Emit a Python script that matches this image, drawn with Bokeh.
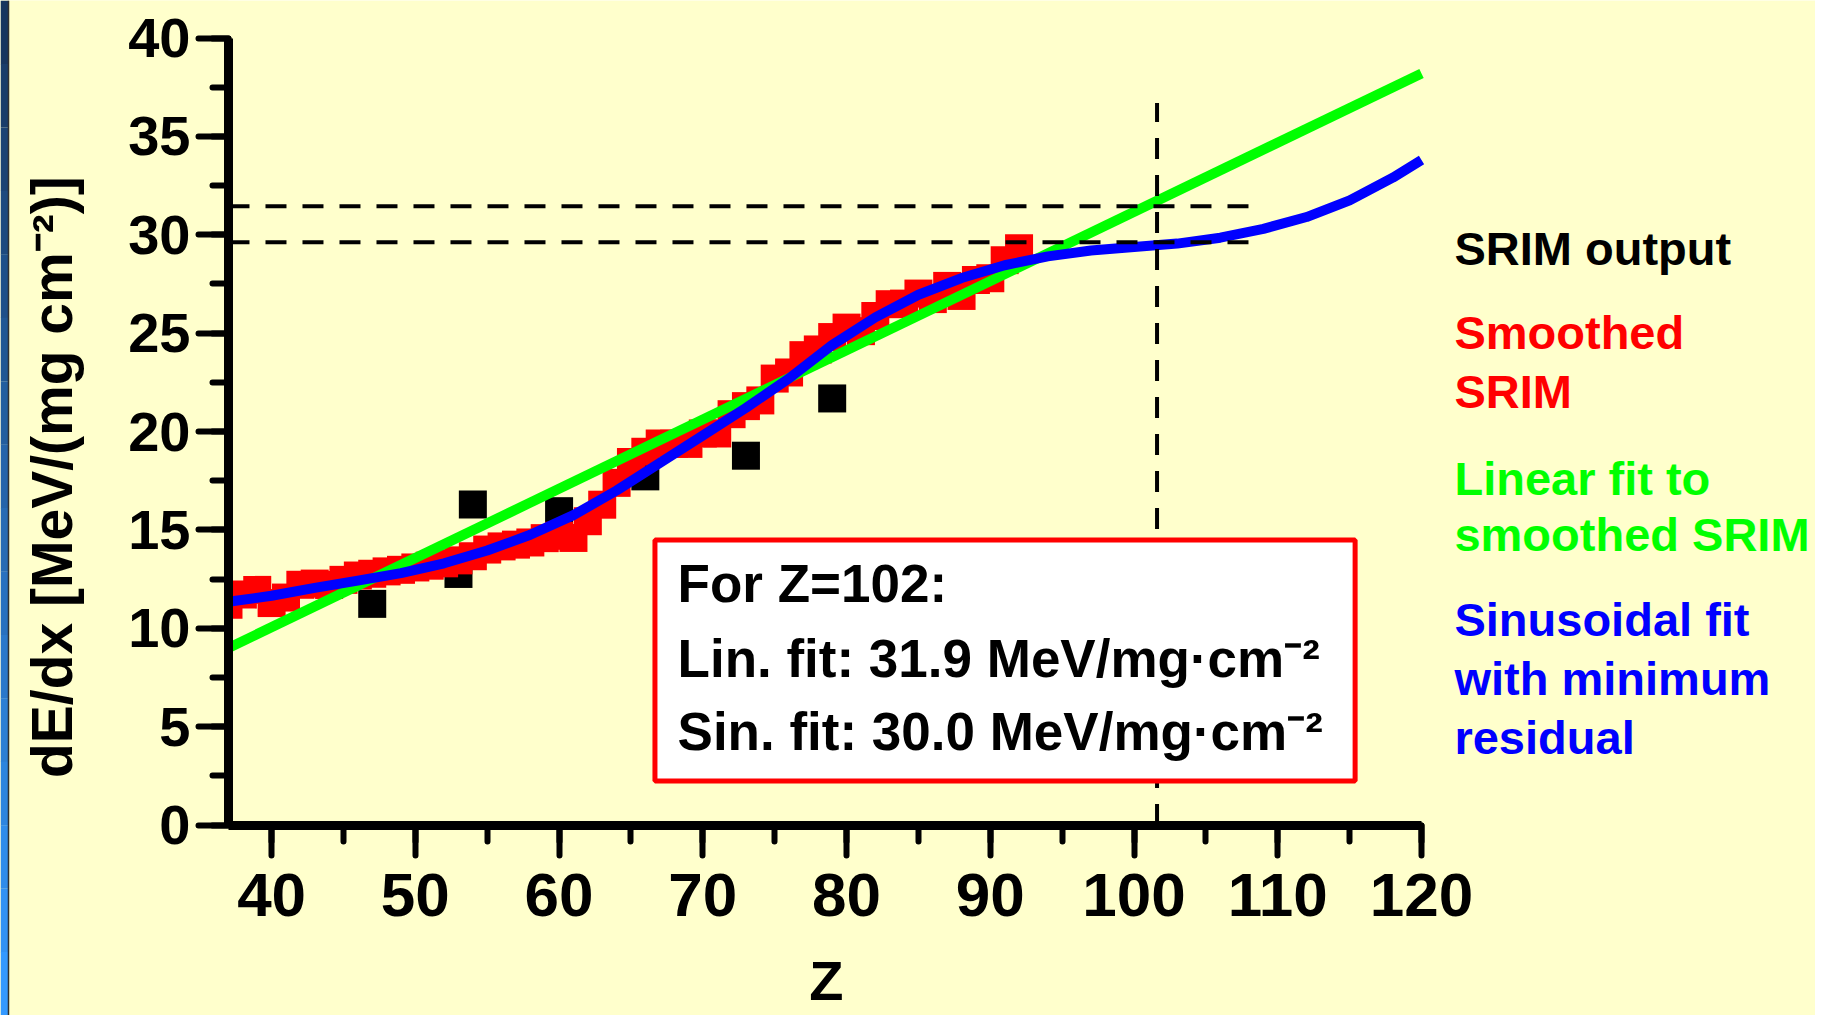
import math
from bokeh.plotting import figure
from bokeh.models import Range1d, SingleIntervalTicker, Label, BoxAnnotation
from bokeh.embed import file_html
from bokeh.resources import INLINE

# ---------------- data ----------------
srim_z = [47, 53, 54, 60, 66, 73, 79]
srim_dedx = [11.24, 12.76, 16.29, 15.95, 17.72, 18.77, 21.68]

smooth_z = list(range(37, 93))
smooth_dedx = [11.20, 11.71, 11.95, 11.28, 11.56, 12.21, 12.27, 12.20, 12.46, 12.68,
               12.77, 12.89, 12.97, 13.09, 13.18, 13.30, 13.45, 13.66, 14.00, 14.16,
               14.25, 14.36, 14.58, 14.70, 14.59, 15.44, 16.28, 17.39, 18.45, 18.97,
               19.39, 19.38, 19.37, 19.90, 19.90, 20.88, 21.29, 21.58, 22.69, 23.00,
               23.88, 24.17, 24.80, 25.28, 25.10, 25.87, 26.47, 26.50, 27.01, 26.73,
               27.40, 26.89, 27.70, 27.79, 28.71, 29.31]

linfit_z = [37, 120]
linfit_dedx = [9.0, 38.2]

sinfit_z = [37, 40, 43, 46, 49, 52, 55, 58, 61, 64, 67, 70, 73, 76, 79, 82, 85, 88,
            91, 94, 97, 100, 103, 106, 109, 112, 115, 118, 120]
sinfit_dedx = [11.35, 11.65, 12.05, 12.42, 12.80, 13.30, 13.95, 14.75, 15.75, 17.00,
               18.40, 19.80, 21.20, 22.70, 24.40, 25.80, 26.95, 27.80, 28.45, 28.90,
               29.20, 29.38, 29.55, 29.85, 30.30, 30.90, 31.75, 32.90, 33.80]

mark_z = 101.6          # vertical marker at Z=102
mark_top = 36.7
mark_lin = 31.45        # linear-fit value
mark_sin = 29.62        # sinusoidal-fit value
mark_end = 108.4

x_ticks_major = 10
y_ticks_major = 5

legend_lines = [("SRIM output", "black"),
                ("Smoothed", "red"), ("SRIM", "red"),
                ("Linear fit to", "#00FF00"), ("smoothed SRIM", "#00FF00"),
                ("Sinusoidal fit", "blue"), ("with minimum", "blue"), ("residual", "blue")]
legend_y = [29.30, 25.03, 22.03, 17.63, 14.76, 10.44, 7.44, 4.47]

box_lines = ["For Z=102:",
             "Lin. fit: 31.9 MeV/mg\u00b7cm\u207b\u00b2",
             "Sin. fit: 30.0 MeV/mg\u00b7cm\u207b\u00b2"]
box_y = [12.26, 8.45, 4.73]

FONT = "Liberation Sans"
BG = "#FFFFCC"

# plotting area covers the whole canvas; axes are pinned at Z=37 and dE/dx=0
X0, X1 = 21.139, 147.409
Y0, Y1 = -9.682, 41.906

p = figure(width=1815, height=1015, x_range=Range1d(X0, X1), y_range=Range1d(Y0, Y1),
           output_backend="svg", toolbar_location=None,
           min_border=0, min_border_left=0, min_border_right=0, min_border_top=0,
           min_border_bottom=0, background_fill_color=BG, border_fill_color=BG,
           outline_line_color=None)
p.grid.visible = False

p.xaxis.ticker = SingleIntervalTicker(interval=x_ticks_major, num_minor_ticks=2)
p.yaxis.ticker = SingleIntervalTicker(interval=y_ticks_major, num_minor_ticks=2)
p.xaxis.fixed_location = 0
p.yaxis.fixed_location = 37
p.xaxis.bounds = (37, 120)
p.yaxis.bounds = (0, 40)

for ax in (p.xaxis[0], p.yaxis[0]):
    ax.axis_line_width = 9
    ax.axis_line_color = "black"
    ax.major_tick_line_width = 6
    ax.minor_tick_line_width = 6
    ax.major_tick_line_color = "black"
    ax.minor_tick_line_color = "black"
    ax.major_tick_line_cap = "round"
    ax.minor_tick_line_cap = "round"
    ax.major_tick_in = 0
    ax.major_tick_out = 30
    ax.minor_tick_in = 0
    ax.minor_tick_out = 16
    ax.major_label_text_font = FONT
    ax.major_label_text_font_style = "bold"
    ax.major_label_text_color = "black"

p.xaxis.major_label_text_font_size = "62px"
p.xaxis.major_label_standoff = 19
p.yaxis.major_label_text_font_size = "56px"
p.yaxis.major_label_standoff = 8

# glyphs
p.scatter(srim_z, srim_dedx, marker="square", size=28, fill_color="black",
          line_color=None)
p.scatter(smooth_z, smooth_dedx, marker="square", size=28, fill_color="red",
          line_color=None)
# keep marks from spilling left of the y axis (plot-area clipping)
p.quad(left=[X0], right=[37], bottom=[Y0], top=[Y1], fill_color=BG, line_color=None)

p.line(linfit_z, linfit_dedx, line_color="#00FF00", line_width=10)
p.line(sinfit_z, sinfit_dedx, line_color="blue", line_width=10, line_join="round")

p.line([37, mark_end], [mark_lin, mark_lin], line_color="black", line_width=4,
       line_dash="21 16")
p.line([37, mark_end], [mark_sin, mark_sin], line_color="black", line_width=4,
       line_dash="21 16")
p.line([mark_z, mark_z], [0, mark_top], line_color="black", line_width=4,
       line_dash="21 16")

# slide edge stripe at far left (decoration)
n_seg = 16
dx = 8 / 14.375
dy = (Y1 - Y0) / n_seg
c_top, c_bot = (0x17, 0x36, 0x5f), (0x33, 0x99, 0xff)
lefts, rights, bots, tops, cols = [], [], [], [], []
for i in range(n_seg):
    t = i / (n_seg - 1)
    c = tuple(int(round(a + (b - a) * t)) for a, b in zip(c_top, c_bot))
    lefts.append(X0)
    rights.append(X0 + dx)
    tops.append(Y1 - i * dy)
    bots.append(Y1 - (i + 1) * dy - 0.01)
    cols.append("#%02x%02x%02x" % c)
p.quad(left=lefts, right=rights, bottom=bots, top=tops, fill_color=cols, line_color=None)
p.line([X0 + dx, X0 + dx], [Y0, Y1], line_color="#303030", line_width=1.5)

# result box
p.add_layout(BoxAnnotation(left=66.67, right=115.38, top=14.49, bottom=2.24,
                           fill_color="white", fill_alpha=1.0,
                           line_color="red", line_width=5, line_alpha=1.0))
for txt, yy in zip(box_lines, box_y):
    p.add_layout(Label(x=68.24, y=yy, text=txt, text_font=FONT,
                       text_font_style="bold", text_font_size="53px",
                       text_color="black", text_baseline="alphabetic",
                       text_align="left"))

# legend texts
for (txt, col), yy in zip(legend_lines, legend_y):
    p.add_layout(Label(x=122.29, y=yy, text=txt, text_font=FONT,
                       text_font_style="bold", text_font_size="47px",
                       text_color=col, text_baseline="alphabetic",
                       text_align="left"))

# axis titles
p.add_layout(Label(x=24.74, y=17.68, text="dE/dx [MeV/(mg cm\u207b\u00b2)]",
                   angle=math.pi / 2, text_font=FONT, text_font_style="bold",
                   text_font_size="57px", text_color="black",
                   text_baseline="alphabetic", text_align="center"))
p.add_layout(Label(x=78.6, y=-7.92, text="Z", text_font=FONT,
                   text_font_style="bold", text_font_size="56px",
                   text_color="black", text_baseline="alphabetic",
                   text_align="center"))

open("out.html", "w").write(file_html(p, INLINE))
